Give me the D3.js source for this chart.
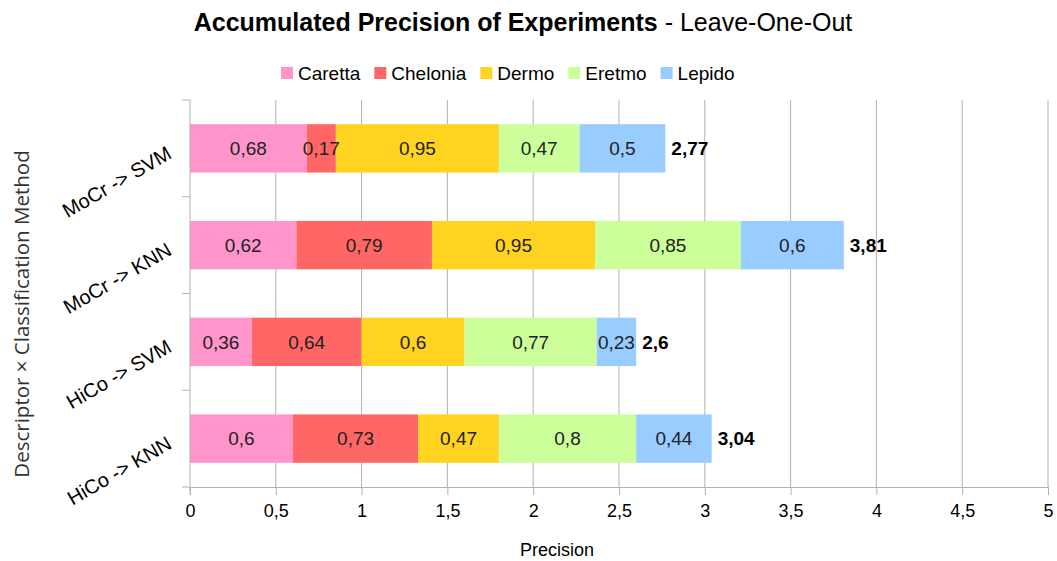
<!DOCTYPE html>
<html><head><meta charset="utf-8">
<script src="https://cdn.jsdelivr.net/npm/d3@7"></script>
<style>body{margin:0;background:#fff}svg{display:block;font-family:"Liberation Sans",Arial,sans-serif}</style>
</head><body><svg id="c" width="1057" height="561"></svg>
<script>
const categories = ["MoCr -> SVM", "MoCr -> KNN", "HiCo -> SVM", "HiCo -> KNN"];
const seriesNames = ["Caretta", "Chelonia", "Dermo", "Eretmo", "Lepido"];
const caretta  = [0.68, 0.62, 0.36, 0.6];
const chelonia = [0.17, 0.79, 0.64, 0.73];
const dermo    = [0.95, 0.95, 0.6, 0.47];
const eretmo   = [0.47, 0.85, 0.77, 0.8];
const lepido   = [0.5, 0.6, 0.23, 0.44];
const totals   = [2.77, 3.81, 2.6, 3.04];
const xTicks   = [0, 0.5, 1, 1.5, 2, 2.5, 3, 3.5, 4, 4.5, 5];
const colors   = ["#ff95ca", "#ff6666", "#ffd320", "#ccff99", "#99ccff"];

const seriesVals = [caretta, chelonia, dermo, eretmo, lepido];
const rows = categories.map((c, i) => {
  const o = {cat: c};
  seriesNames.forEach((s, j) => o[s] = seriesVals[j][i]);
  return o;
});
const stack = d3.stack().keys(seriesNames)(rows);

const svg = d3.select("#c");
const L = 190, R = 1048, T = 100, B = 487;
const x = d3.scaleLinear().domain([0, 5]).range([L, R]);
const y = d3.scaleBand().domain(categories).range([T, B]).paddingInner(0.5).paddingOuter(0.25);
const fmt = v => String(v).replace(".", ",");

// grid
svg.append("g").selectAll("line").data(xTicks.slice(1)).join("line")
  .attr("x1", d => x(d)).attr("x2", d => x(d)).attr("y1", T).attr("y2", B)
  .attr("stroke", "#b3b3b3").attr("stroke-width", 1);

// bars
const gs = svg.append("g").selectAll("g").data(stack).join("g")
  .attr("fill", (d, i) => colors[i]);
gs.selectAll("rect").data(d => d).join("rect")
  .attr("x", d => x(d[0])).attr("width", d => x(d[1]) - x(d[0]))
  .attr("y", d => y(d.data.cat)).attr("height", y.bandwidth());
svg.append("g").selectAll("g").data(stack).join("g")
  .selectAll("text").data(d => d.map(p => ({p, key: d.key}))).join("text")
  .attr("x", d => (x(d.p[0]) + x(d.p[1])) / 2)
  .attr("y", d => y(d.p.data.cat) + y.bandwidth() / 2)
  .attr("dy", "0.35em").attr("text-anchor", "middle")
  .attr("font-size", 19).attr("fill", "#222")
  .text(d => fmt(d.p.data[d.key]));

// totals
svg.append("g").selectAll("text").data(categories).join("text")
  .attr("x", (c, i) => x(totals[i]) + 6)
  .attr("y", c => y(c) + y.bandwidth() / 2).attr("dy", "0.35em")
  .attr("font-size", 19).attr("font-weight", "bold").attr("fill", "#000")
  .text((c, i) => fmt(totals[i]));

// x axis
const xa = svg.append("g").attr("transform", `translate(0,${B})`)
  .call(d3.axisBottom(x).tickValues(xTicks).tickFormat(fmt).tickSize(8).tickSizeOuter(0));
xa.select(".domain").attr("stroke", "#b3b3b3");
xa.selectAll(".tick line").attr("stroke", "#b3b3b3");
xa.selectAll("text").attr("font-size", 18).attr("fill", "#000").attr("y", 30).attr("dy", 0)
  .attr("font-family", "Liberation Sans, Arial, sans-serif");

// y axis line and ticks
svg.append("line").attr("x1", L).attr("x2", L).attr("y1", T).attr("y2", B + 8).attr("stroke", "#b3b3b3");
const sep = [T, ...categories.map(c => y(c) + y.bandwidth() + y.step() * y.paddingInner() / 2)];
svg.append("g").selectAll("line").data(sep).join("line")
  .attr("x1", L - 8).attr("x2", L).attr("y1", d => d).attr("y2", d => d).attr("stroke", "#b3b3b3");

// y labels rotated
svg.append("g").selectAll("text").data(categories).join("text")
  .attr("transform", c => `translate(173,${y(c) + y.bandwidth() / 2 + 9}) rotate(-30)`)
  .attr("text-anchor", "end").attr("font-size", 20).attr("fill", "#000")
  .text(c => c);

// axis titles
svg.append("text").attr("x", 557).attr("y", 556).attr("text-anchor", "middle")
  .attr("font-size", 18).attr("fill", "#000").text("Precision");
svg.append("text").attr("transform", `translate(29,314) rotate(-90)`)
  .attr("text-anchor", "middle").attr("font-size", 20.5).attr("fill", "#333")
  .attr("font-family", "Open Sans, sans-serif")
  .text("Descriptor × Classification Method");

// title
const t = svg.append("text").attr("x", 523).attr("y", 31).attr("text-anchor", "middle")
  .attr("font-size", 25).attr("fill", "#000");
t.append("tspan").attr("font-weight", "bold").text("Accumulated Precision of Experiments");
t.append("tspan").text(" - Leave-One-Out");

// legend
const lg = svg.append("g");
let lx = 281;
seriesNames.forEach((s, i) => {
  const g = lg.append("g").attr("transform", `translate(${lx},73)`);
  g.append("rect").attr("x", 0).attr("y", -6).attr("width", 12).attr("height", 12).attr("fill", colors[i]);
  const tx = g.append("text").attr("x", 17).attr("dy", "0.35em").attr("font-size", 19).attr("fill", "#000").text(s);
  lx += 17 + tx.node().getComputedTextLength() + 14;
});
</script></body></html>
